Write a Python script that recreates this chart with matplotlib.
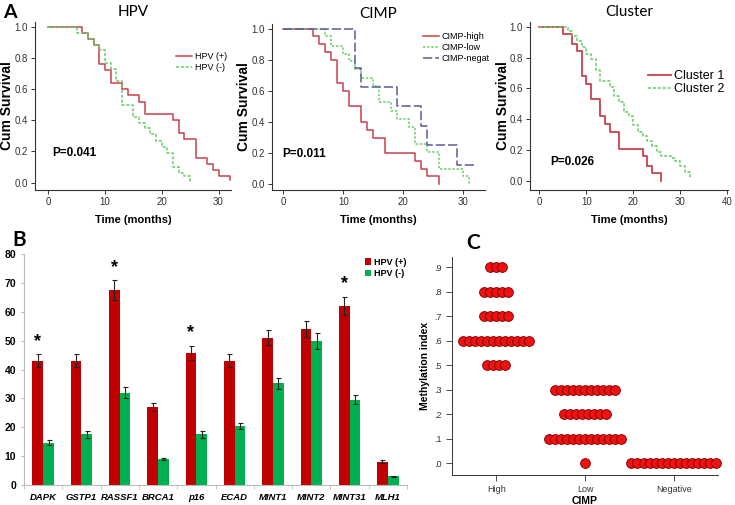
import numpy as np
import matplotlib
matplotlib.use("Agg")
import matplotlib.pyplot as plt

plt.rcParams['font.family'] = ['Liberation Sans', 'DejaVu Sans']

# ---- datos panel A (Kaplan-Meier, tiempo en meses, supervivencia acumulada)
hpv_pos_t = [0, 6, 7, 8, 9, 10, 11, 13, 14, 16, 17, 22, 23, 24, 26, 28, 29, 30, 32]
hpv_pos_s = [1.0, 0.96, 0.92, 0.88, 0.76, 0.72, 0.64, 0.60, 0.56, 0.52, 0.44, 0.40, 0.32, 0.28, 0.16, 0.12, 0.08, 0.04, 0.02]
hpv_neg_t = [0, 5, 7, 8, 9, 10, 11, 12, 13, 15, 16, 17, 18, 19, 20, 21, 22, 23, 24, 25]
hpv_neg_s = [1.0, 0.96, 0.92, 0.88, 0.85, 0.77, 0.73, 0.65, 0.50, 0.42, 0.38, 0.35, 0.31, 0.27, 0.23, 0.19, 0.10, 0.06, 0.04, 0.0]

cimp_high_t = [0, 5, 6, 7, 8, 9, 10, 11, 13, 14, 15, 17, 22, 23, 24, 26]
cimp_high_s = [1.0, 0.95, 0.90, 0.85, 0.80, 0.65, 0.60, 0.50, 0.40, 0.35, 0.30, 0.20, 0.15, 0.10, 0.05, 0.0]
cimp_low_t = [0, 7, 8, 10, 11, 12, 13, 15, 16, 18, 19, 21, 22, 24, 26, 30, 31]
cimp_low_s = [1.0, 0.95, 0.89, 0.84, 0.79, 0.74, 0.68, 0.63, 0.53, 0.47, 0.42, 0.37, 0.26, 0.21, 0.10, 0.05, 0.0]
cimp_neg_t = [0, 12, 13, 19, 23, 24, 29, 32]
cimp_neg_s = [1.0, 0.75, 0.625, 0.50, 0.375, 0.25, 0.125, 0.125]

cl1_t = [0, 5, 7, 8, 9, 10, 11, 13, 14, 15, 17, 22, 23, 24, 26]
cl1_s = [1.0, 0.95, 0.89, 0.84, 0.68, 0.63, 0.53, 0.42, 0.37, 0.32, 0.21, 0.16, 0.10, 0.05, 0.0]
cl2_t = [0, 6, 7, 8, 9, 10, 11, 12, 13, 15, 16, 17, 18, 19, 20, 21, 22, 23, 24, 25, 26, 28, 29, 30, 31, 32]
cl2_s = [1.0, 0.97, 0.94, 0.91, 0.87, 0.82, 0.79, 0.72, 0.65, 0.61, 0.55, 0.51, 0.45, 0.42, 0.36, 0.32, 0.29, 0.26, 0.23, 0.19, 0.16, 0.15, 0.13, 0.10, 0.06, 0.02]

# ---- datos panel B
genes = ['DAPK', 'GSTP1', 'RASSF1', 'BRCA1', 'p16', 'ECAD', 'MINT1', 'MINT2', 'MINT31', 'MLH1']
hpv_pos = [43, 43, 67.5, 27, 45.8, 43, 51, 54, 62, 8]
hpv_neg = [14.7, 17.5, 32, 9, 17.5, 20.5, 35.2, 50, 29.5, 3]
err_pos = [2.2, 2.2, 3.5, 1.4, 2.4, 2.2, 2.6, 2.8, 3.2, 0.5]
err_neg = [0.9, 1.1, 1.8, 0.5, 1.1, 1.1, 1.8, 2.8, 1.5, 0.2]
signif = [True, False, True, False, True, False, False, False, True, False]

# ---- datos panel C (numero de casos por nivel de indice)
idx_labels = ['.0', '.1', '.2', '.3', '.5', '.6', '.7', '.8', '.9']
cimp_groups = ['High', 'Low', 'Negative']
high_levels = ['.9', '.8', '.7', '.6', '.5']
high_counts = [3, 5, 5, 12, 4]
low_levels = ['.3', '.2', '.1', '.0']
low_counts = [11, 8, 13, 1]
neg_levels = ['.0']
neg_counts = [15]

W, H = 735, 505
fig = plt.figure(figsize=(W / 100, H / 100), dpi=100)


def px(l, t, r, b):
    return [l / W, 1 - b / H, (r - l) / W, (b - t) / H]


red_km = '#c8414b'
green_km = '#66cc66'
blue_km = '#5a5a9a'


def km_axes(rect, xlim, ylim, xticks, labx):
    ax = fig.add_axes(px(*rect))
    ax.set_xlim(*xlim)
    ax.set_ylim(*ylim)
    ax.set_xticks(xticks)
    ax.set_yticks([0, 0.2, 0.4, 0.6, 0.8, 1.0])
    ax.set_yticklabels(['0.0', '0.2', '0.4', '0.6', '0.8', '1.0'])
    for s in ['top', 'right']:
        ax.spines[s].set_visible(False)
    for s in ['left', 'bottom']:
        ax.spines[s].set_color('#333333')
        ax.spines[s].set_linewidth(0.8)
    ax.tick_params(labelsize=7, colors='#333333', length=3, width=0.7, pad=2)
    ax.set_xlabel('Time (months)', fontsize=8, fontweight='bold', labelpad=6)
    ax.set_ylabel('Cum Survival', fontsize=10, fontweight='bold')
    ax.yaxis.set_label_coords(labx, 0.5)
    return ax


# HPV
ax1 = km_axes((35, 22, 231, 190), (-2.35, 32.2), (-0.047, 1.03), [0, 10, 20, 30], -0.105)
ax1.step(hpv_pos_t, hpv_pos_s, where='post', color=red_km, lw=1.1, label='HPV (+)')
ax1.step(hpv_neg_t, hpv_neg_s, where='post', color=green_km, lw=1.1, ls=(0, (2, 1.2)), label='HPV (-)')
ax1.legend(loc='upper right', bbox_to_anchor=(1.02, 0.87), fontsize=6.5, frameon=False,
           handlelength=1.8, handletextpad=0.3, labelspacing=0.2)
ax1.text(0.09, 0.2, 'P=0.041', transform=ax1.transAxes, fontsize=8.5, fontweight='bold')
ax1.set_title('HPV', fontsize=11, family='Lato', pad=4)
fig.text(3 / W, 1 - 13 / H, 'A', fontsize=14, fontweight='bold', family='Lato', va='center')

# CIMP
ax2 = km_axes((272, 24, 485, 190), (-1.9, 33.6), (-0.037, 1.03), [0, 10, 20, 30], -0.10)
ax2.step(cimp_high_t, cimp_high_s, where='post', color=red_km, lw=1.1, label='CIMP-high')
ax2.step(cimp_low_t, cimp_low_s, where='post', color=green_km, lw=1.1, ls=(0, (1.5, 1.2)), label='CIMP-low')
ax2.step(cimp_neg_t, cimp_neg_s, where='post', color=blue_km, lw=1.1, ls=(0, (6, 2)), label='CIMP-negat')
ax2.legend(loc='upper right', bbox_to_anchor=(1.06, 1.0), fontsize=6.5, frameon=False,
           handlelength=1.8, handletextpad=0.3, labelspacing=0.2)
ax2.text(0.05, 0.2, 'P=0.011', transform=ax2.transAxes, fontsize=8.5, fontweight='bold')
ax2.set_title('CIMP', fontsize=11, family='Lato', pad=4)

# Cluster
ax3 = km_axes((530, 22, 728, 190), (-2.0, 40.2), (-0.058, 1.03), [0, 10, 20, 30, 40], -0.10)
ax3.step(cl1_t, cl1_s, where='post', color=red_km, lw=1.3, label='Cluster 1')
ax3.step(cl2_t, cl2_s, where='post', color=green_km, lw=1.1, ls=(0, (2, 1.2)), label='Cluster 2')
ax3.legend(loc='upper right', bbox_to_anchor=(1.04, 0.78), fontsize=9, frameon=False,
           handlelength=1.8, handletextpad=0.3, labelspacing=0.1)
ax3.text(0.1, 0.15, 'P=0.026', transform=ax3.transAxes, fontsize=8.5, fontweight='bold')
ax3.set_title('Cluster', fontsize=11, family='Lato', pad=4)

# ---- panel B
axb = fig.add_axes(px(24, 254, 407, 485))
x = np.arange(len(genes))
bw = 0.28
axb.bar(x - bw / 2, hpv_pos, bw, color='#c00000', yerr=err_pos, ecolor='#222222',
        error_kw=dict(lw=0.8, capsize=1.8, capthick=0.8), label='HPV (+)')
axb.bar(x + bw / 2, hpv_neg, bw, color='#00b050', yerr=err_neg, ecolor='#222222',
        error_kw=dict(lw=0.8, capsize=1.8, capthick=0.8), label='HPV (-)')
for i in range(len(genes)):
    if signif[i]:
        axb.text(x[i] - bw / 2, hpv_pos[i] + err_pos[i] + 1.5, '*', ha='center', va='bottom',
                 fontsize=13, fontweight='bold')
axb.set_xlim(-0.5, len(genes) - 0.5)
axb.set_ylim(0, 80)
axb.set_yticks(range(0, 81, 10))
axb.set_xticks(x)
axb.set_xticklabels(genes, fontsize=6.8, fontweight='bold', style='italic')
axb.set_xticks(np.arange(-0.5, len(genes), 1), minor=True)
axb.tick_params(axis='x', which='major', length=0, pad=6)
axb.tick_params(axis='x', which='minor', length=3, color='#bbbbbb')
axb.tick_params(axis='y', labelsize=7.5, length=2, color='#bbbbbb')
for t in axb.get_yticklabels():
    t.set_fontweight('bold')
for s in ['top', 'right']:
    axb.spines[s].set_visible(False)
for s in ['left', 'bottom']:
    axb.spines[s].set_color('#bbbbbb')
    axb.spines[s].set_linewidth(0.8)
axb.legend(loc='upper right', bbox_to_anchor=(1.02, 1.02), frameon=False,
           handlelength=0.7, handleheight=0.7, handletextpad=0.3, labelspacing=0.3,
           prop=dict(weight='bold', size=6.5))
fig.text(12 / W, 1 - 240 / H, 'B', fontsize=15, fontweight='bold', family='Lato', va='center')

# ---- panel C
axc = fig.add_axes(px(452, 257, 718, 475))
step = 0.068
for gi, (levels, counts) in enumerate([(high_levels, high_counts), (low_levels, low_counts),
                                        (neg_levels, neg_counts)]):
    for lev, n in zip(levels, counts):
        xs = gi + (np.arange(n) - (n - 1) / 2) * step
        ys = np.full(n, idx_labels.index(lev))
        axc.scatter(xs, ys, s=50, color='#ee1111', edgecolor='#7a0000', linewidth=0.6,
                    zorder=3, clip_on=False)
axc.set_xlim(-0.5, 2.5)
axc.set_ylim(-0.48, 8.42)
axc.set_yticks(range(len(idx_labels)))
axc.set_yticklabels(idx_labels)
axc.set_xticks(range(len(cimp_groups)))
axc.set_xticklabels(cimp_groups)
axc.tick_params(labelsize=6.5, length=4, width=0.6, colors='#333333')
for s in ['top', 'right']:
    axc.spines[s].set_visible(False)
for s in ['left', 'bottom']:
    axc.spines[s].set_color('#333333')
    axc.spines[s].set_linewidth(0.7)
axc.set_xlabel('CIMP', fontsize=7.5, fontweight='bold', labelpad=1)
axc.set_ylabel('Methylation index', fontsize=7.5, fontweight='bold', labelpad=3)
fig.text(473 / W, 1 - 243 / H, 'C', fontsize=15, fontweight='bold', family='Lato', va='center', ha='center')

fig.savefig('out.png', dpi=100)
